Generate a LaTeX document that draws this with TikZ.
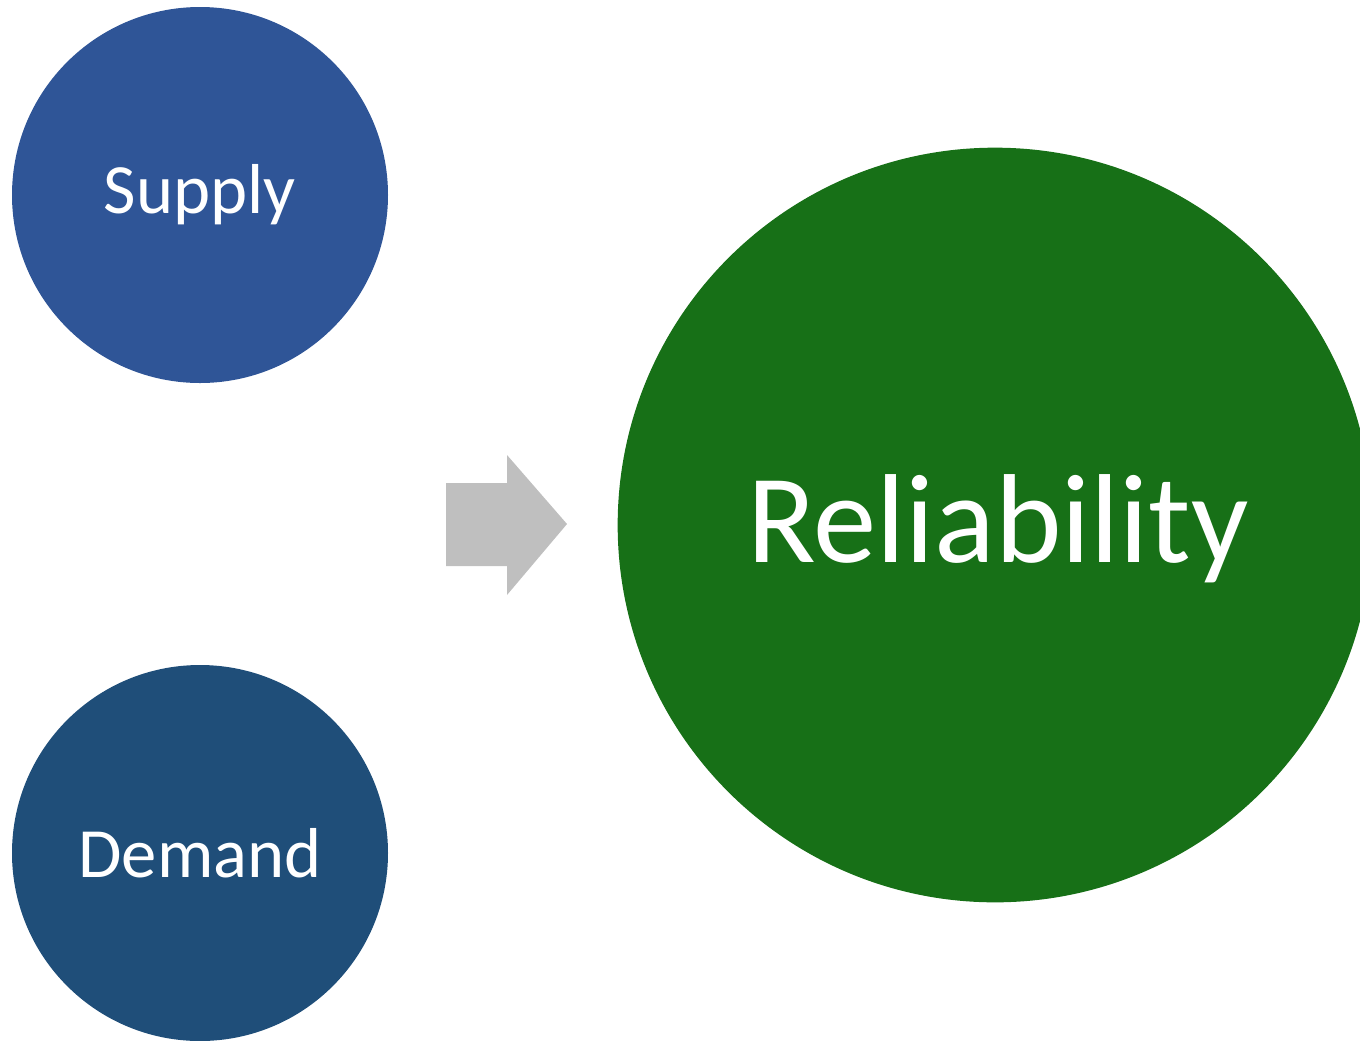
\documentclass[tikz,border=0pt]{standalone}
\usepackage{fontspec}
\setmainfont{Carlito}
\usepackage{tikz}

\definecolor{supplyblue}{HTML}{2F5597}
\definecolor{demandblue}{HTML}{1F4E79}
\definecolor{relgreen}{HTML}{177017}
\definecolor{arrowgray}{HTML}{BFBFBF}

\begin{document}
\begin{tikzpicture}[x=0.75pt,y=-0.75pt,
  ball/.style={circle,inner sep=0pt,text=white}]
\useasboundingbox (0,0) rectangle (1360,1040);
\clip (0,0) rectangle (1360,1040);

\node[ball,fill=supplyblue,minimum size=282pt,font=\fontsize{53}{58}\selectfont] (supply) at (200,195) {Supply};
\node[ball,fill=demandblue,minimum size=282pt,font=\fontsize{53}{58}\selectfont] (demand) at (200,853) {Demand};
\node[ball,fill=relgreen,minimum size=566pt,font=\fontsize{95}{100}\selectfont] (rel) at (995,525) {};
\node[text=white,font=\fontsize{95}{100}\selectfont] (reltext) at (998,529) {Reliability};

% block arrow
\fill[arrowgray] (446,483) -- (507,483) -- (507,455) -- (567,524)
  -- (507,595) -- (507,566) -- (446,566) -- cycle;
\end{tikzpicture}
\end{document}
